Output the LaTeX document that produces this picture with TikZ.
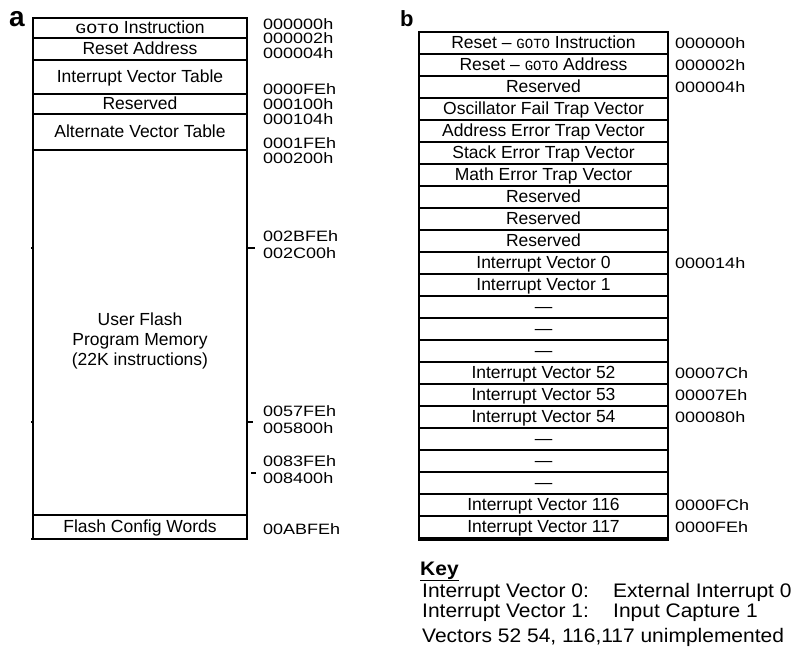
\documentclass[tikz,border=0pt]{standalone}
\usepackage{fontspec}
\setmainfont{Liberation Sans}
\newfontfamily\addrfont[FakeStretch=1.2]{Liberation Sans}
\newfontfamily\keyfont[FakeStretch=1.07]{Liberation Sans}
\newfontfamily\gotofont{Liberation Mono}
\newfontfamily\gotowide[FakeStretch=1.3]{Liberation Mono}
\newcommand\gotoA{{\gotowide\fontsize{14}{14}\selectfont GOTO}}
\newcommand\gotoB{{\gotofont\fontsize{14}{14}\selectfont GOTO}}
\usetikzlibrary{positioning}

\begin{document}
\begin{tikzpicture}[
  x=1pt, y=-1pt,
  font=\fontsize{17.5}{20}\selectfont,
  cell/.style={draw,line width=1.1pt,inner sep=0pt,minimum width=214pt,text height=12.5pt,text depth=2pt},
  slot/.style={draw,line width=1.1pt,inner sep=0pt,minimum width=249pt,minimum height=22pt,text height=12.5pt,text depth=2pt},
  addr/.style={anchor=west,inner sep=0pt,text height=10.7pt,text depth=0pt,font=\addrfont\fontsize{15}{16}\selectfont},
  keyline/.style={anchor=base west,inner sep=0pt,font=\keyfont\fontsize{19.6}{21}\selectfont},
  tag/.style={anchor=base west,inner sep=0pt},
  tick/.style={line width=1.2pt}
]
\useasboundingbox (0,0) rectangle (795,651);

% panel a
\node[tag,font=\bfseries\fontsize{28}{28}\selectfont] (tagA) at (9,26) {a};
\node[cell,minimum height=20pt] (goto) at (140,28) {\gotoA{} Instruction};
\node[cell,minimum height=22pt] (reset) at (140,49) {Reset Address};
\node[cell,minimum height=34pt] (ivt) at (140,77) {Interrupt Vector Table};
\node[cell,minimum height=20pt] (resv) at (140,104) {Reserved};
\node[cell,minimum height=36pt] (aivt) at (140,132) {Alternate Vector Table};
\node[cell,minimum height=365pt] (flash) at (140,332.5) {};
\node[align=center,inner sep=0pt] (flashtxt) at (140,341) {User Flash\\Program Memory\\(22K instructions)};
\node[cell,minimum height=24pt] (config) at (140,527) {Flash Config Words};

\foreach \y/\txt [count=\k] in {24/000000h, 38.5/000002h, 53/000004h, 89/0000FEh, 104/000100h,
    119/000104h, 143/0001FEh, 158/000200h, 236/002BFEh, 253/002C00h, 411/0057FEh,
    428/005800h, 461/0083FEh, 478/008400h, 529/00ABFEh}
  \node[addr] (a\k) at (263,\y) {\txt};

\draw[tick] (248,248) -- (255,248);
\draw[tick] (248,422) -- (253,422);
\draw[tick] (251,473) -- (256,473);
\draw[tick] (31,248) -- (34,248);
\draw[tick] (31,422) -- (34,422);
\draw[tick] (31,539) -- (34,539);

% panel b
\node[tag,font=\bfseries\fontsize{22}{22}\selectfont] (tagB) at (400,26) {b};
\foreach \lbl [count=\i from 0] in {Reset -- \gotoB{} Instruction, Reset -- \gotoB{} Address, Reserved,
    Oscillator Fail Trap Vector, Address Error Trap Vector, Stack Error Trap Vector,
    Math Error Trap Vector, Reserved, Reserved, Reserved, Interrupt Vector 0,
    Interrupt Vector 1, ---, ---, ---, Interrupt Vector 52, Interrupt Vector 53,
    Interrupt Vector 54, ---, ---, ---, Interrupt Vector 116, Interrupt Vector 117}
  \node[slot] (v\i) at (543.5,{43+22*\i}) {\lbl};
\draw[line width=3pt] ([yshift=-1pt]v22.south west) -- ([yshift=-1pt]v22.south east);

\foreach \i/\txt in {0/000000h, 1/000002h, 2/000004h, 10/000014h, 15/00007Ch,
    16/00007Eh, 17/000080h, 21/0000FCh, 22/0000FEh}
  \node[addr] (b\i) at (675,{43+22*\i}) {\txt};

% key
\node[tag,font=\keyfont\bfseries\fontsize{19.6}{21}\selectfont] (key) at (420,575) {\underline{Key}};
\node[keyline] (k0) at (422,597) {Interrupt Vector 0:};
\node[keyline] (k0d) at (613,597) {External Interrupt 0};
\node[keyline] (k1) at (422,617) {Interrupt Vector 1:};
\node[keyline] (k1d) at (613,617) {Input Capture 1};
\node[keyline] (k2) at (422,642) {Vectors 52 54, 116,117 unimplemented};
\end{tikzpicture}
\end{document}
